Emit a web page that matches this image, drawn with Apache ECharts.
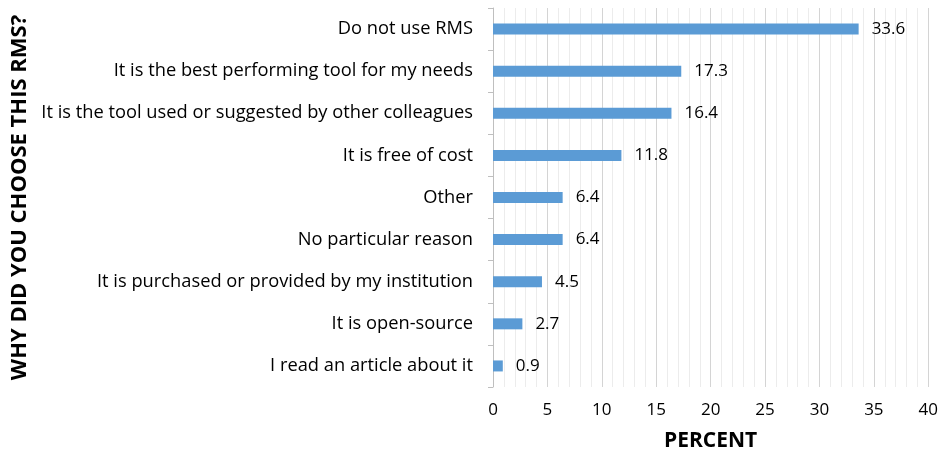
<!DOCTYPE html>
<html>
<head>
<meta charset="utf-8">
<script src="https://cdn.jsdelivr.net/npm/echarts@6/dist/echarts.min.js"></script>
<style>
html, body { margin: 0; padding: 0; background: #fff; }
#main { width: 941px; height: 459px; }
</style>
</head>
<body>
<div id="main"></div>
<script>
// data, bottom to top order as echarts draws category axis
var reasons = [
  'I read an article about it',
  'It is open-source',
  'It is purchased or provided by my institution',
  'No particular reason',
  'Other',
  'It is free of cost',
  'It is the tool used or suggested by other colleagues',
  'It is the best performing tool for my needs',
  'Do not use RMS'
];
var percent = [0.9, 2.7, 4.5, 6.4, 6.4, 11.8, 16.4, 17.3, 33.6];

var myChart = echarts.init(document.getElementById('main'));
var FONT = 'Open Sans';

var option = {
  animation: false,
  grid: {
    left: 493,
    right: 12,
    top: 8,
    bottom: 72
  },
  xAxis: {
    type: 'value',
    min: 0,
    max: 40,
    interval: 5,
    name: 'PERCENT',
    nameLocation: 'middle',
    nameGap: 44,
    nameTextStyle: { fontFamily: FONT, fontSize: 21, fontWeight: 'bold', color: '#000' },
    axisLine: { show: false },
    axisTick: { show: false },
    axisLabel: { fontFamily: FONT, fontSize: 17, color: '#000', margin: 15 },
    splitLine: { show: true, lineStyle: { color: '#d4d4d4', width: 1 } },
    minorTick: { show: false, splitNumber: 5 },
    minorSplitLine: { show: true, lineStyle: { color: '#ececec', width: 1 } }
  },
  yAxis: {
    type: 'category',
    data: reasons,
    name: 'WHY DID YOU CHOOSE THIS RMS?',
    nameLocation: 'middle',
    nameRotate: 90,
    nameGap: 462,
    nameTextStyle: { fontFamily: FONT, fontSize: 22, fontWeight: 'bold', color: '#000' },
    axisLine: { show: true, lineStyle: { color: '#bfbfbf' } },
    axisTick: { show: true, length: 5, lineStyle: { color: '#bfbfbf' } },
    axisLabel: { fontFamily: FONT, fontSize: 18.3, color: '#000', margin: 20 },
    splitLine: { show: false }
  },
  series: [{
    type: 'bar',
    data: percent,
    barWidth: 11,
    itemStyle: { color: '#5b9bd5' },
    label: {
      show: true,
      position: 'right',
      distance: 13,
      fontFamily: FONT,
      fontSize: 17,
      color: '#000'
    }
  }]
};

myChart.setOption(option);
window.onresize = myChart.resize;
</script>
</body>
</html>
